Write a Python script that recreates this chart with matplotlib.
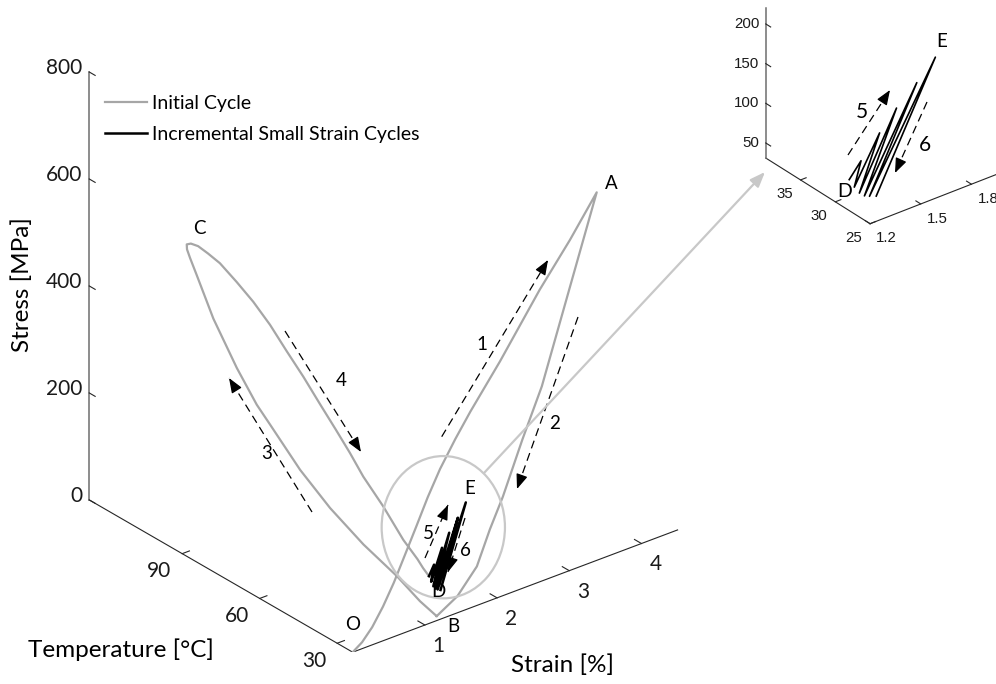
import numpy as np
import matplotlib.pyplot as plt
from matplotlib.patches import Ellipse
from mpl_toolkits.mplot3d import proj3d

plt.rcParams['font.family'] = ['Lato', 'DejaVu Sans']

# ---- initial cycle: strain [%], temperature [C], stress [MPa] ----
room_temp = 24.0
# O -> A : loading at room temperature
load_strain = [0.00, 0.13, 0.27, 0.42, 0.57, 0.72, 0.88, 1.04, 1.21, 1.42, 1.63, 2.04, 2.59, 3.01, 3.38]
load_stress = [0, 12, 33, 64, 101, 144, 190, 237, 281, 326, 367, 440, 546, 618, 688]
# A -> B : unloading
unload_strain = [3.38, 2.62, 2.35, 2.08, 1.90, 1.72, 1.45, 1.16]
unload_stress = [688, 364, 278, 185, 133, 73, 31, 8]
# B -> C : heating at fixed strain
heat_strain = 1.165
heat_temp = [24, 30.5, 39.5, 52.4, 65.3, 76.9, 88.5, 93.7, 101.4, 110.5, 116.9, 119.5, 120.7, 120.8]
heat_stress = [8, 18, 40, 63, 95, 134, 186, 209, 256, 323, 386, 411, 424, 433]
# C -> D : cooling
cool_strain = [1.165, 1.165, 1.165, 1.165, 1.17, 1.17, 1.17, 1.17, 1.17, 1.17, 1.17, 1.17, 1.17,
               1.17, 1.17, 1.17, 1.18, 1.19, 1.20]
cool_temp = [120.8, 119.2, 116.4, 112.6, 108.1, 101.6, 95.2, 88.7, 82.3, 75.8, 69.4, 63.2, 57.8,
             52.6, 44.9, 37.1, 31.9, 30.0, 28]
cool_stress = [433, 439, 442, 439, 433, 416, 397, 372, 341, 311, 278, 247, 219, 189, 155, 114, 92,
               80, 70]

# ---- incremental small strain cycles D -> E ----
cyc_temp = 28.0
cyc_strain = [1.20, 1.27, 1.23, 1.38, 1.26, 1.48, 1.29, 1.60, 1.32, 1.71, 1.36]
cyc_stress = [70, 88, 58, 114, 48, 137, 42, 159, 39, 182, 36]

# axis ticks
strain_ticks = [1, 2, 3, 4]
temp_ticks = [30, 60, 90]
stress_ticks = [0, 200, 400, 600, 800]
zoom_strain_ticks = [1.2, 1.5, 1.8]
zoom_temp_ticks = [25, 30, 35]
zoom_stress_ticks = [50, 100, 150, 200]

init_x = np.concatenate([load_strain, unload_strain, np.full(len(heat_temp), heat_strain), cool_strain])
init_y = np.concatenate([np.full(len(load_strain), room_temp), np.full(len(unload_strain), room_temp),
                         heat_temp, cool_temp])
init_z = np.concatenate([load_stress, unload_stress, heat_stress, cool_stress])
cyc_y = np.full(len(cyc_strain), cyc_temp)

GRAY = '#a6a6a6'
LIGHT = '#c8c8c8'
AXC = '#262626'


def put(ax, x, y, z, s, **kw):
    """flat text anchored at a projected 3D point"""
    px, py, _ = proj3d.proj_transform(x, y, z, ax.get_proj())
    return ax.text2D(px, py, s, transform=ax.transData, **kw)


def frame(ax, xl, yl, zl, xt, yt, zt, tlen, xlab_at, ylab_at, zlab_at, fs, fam):
    """MATLAB-like 3D axis lines with inward ticks and labels"""
    x0, x1 = xl
    y0, y1 = yl
    z0, z1 = zl
    kw = dict(fontsize=fs, family=fam, color='#1a1a1a', va='center')
    ax.plot([x0, x1], [y0, y0], [z0, z0], color=AXC, lw=0.8)
    ax.plot([x0, x0], [y0, y1], [z0, z0], color=AXC, lw=0.8)
    ax.plot([x0, x0], [y1, y1], [z0, z1], color='#6e6e6e', lw=1.1)
    for t in xt:
        ax.plot([t, t], [y0, y0 + tlen[0]], [z0, z0], color=AXC, lw=0.8)
        put(ax, t, y0 - xlab_at[0], z0 - xlab_at[1], f'{t:g}', ha='center', **kw)
    for t in yt:
        ax.plot([x0, x0 + tlen[1]], [t, t], [z0, z0], color=AXC, lw=0.8)
        put(ax, x0 - ylab_at[0], t, z0 - ylab_at[1], f'{t:g}', ha='center', **kw)
    for t in zt:
        ax.plot([x0, x0], [y1, y1 - tlen[2]], [t, t], color=AXC, lw=0.8)
        put(ax, x0, y1 + zlab_at[0], t - zlab_at[1], f'{t:g}', ha='right', **kw)


fig = plt.figure(figsize=(9.96, 6.84), dpi=100)

# main view
ax = fig.add_axes([0.0323, 0.0465, 0.6867, 1.0], projection='3d', proj_type='ortho')
ax.set_axis_off()
ax.set_xlim(0, 4.5)
ax.set_ylim(24, 126)
ax.set_zlim(0, 800)
ax.set_box_aspect((417.5, 419.6, 483.8), zoom=1.085)
ax.view_init(elev=27.8, azim=-128.9)
frame(ax, (0, 4.5), (24, 126), (0, 800), strain_ticks, temp_ticks, stress_ticks,
      (2.7, 0.1, 2.3), (5.4, 24), (0.32, 17), (2.7, 0), 15, 'Lato')
l_init, = ax.plot(init_x, init_y, init_z, color=GRAY, lw=1.6, label='Initial Cycle')
l_cyc, = ax.plot(cyc_strain, cyc_y, cyc_stress, color='black', lw=1.8,
                 label='Incremental Small Strain Cycles')
put(ax, 1.57, -13.3, 0, 'Strain [%]', ha='center', va='center', fontsize=17.5)
put(ax, -1.91, 60.4, 0, 'Temperature [°C]', ha='center', va='center', fontsize=17.5)

# zoomed view of the small cycles
axz = fig.add_axes([0.7407, 0.6531, 0.2889, 0.4206], projection='3d', proj_type='ortho')
axz.set_axis_off()
axz.set_xlim(1.2, 2.0)
axz.set_ylim(25, 40)
axz.set_zlim(31, 220)
axz.set_box_aspect((172.0, 168.7, 172.7), zoom=1.0)
axz.view_init(elev=29.7, azim=-128.2)
frame(axz, (1.2, 2.0), (25, 40), (31, 220), zoom_strain_ticks, zoom_temp_ticks, zoom_stress_ticks,
      (0.7, 0.033, 0.7), (2.4, 5.2), (0.095, 9.8), (0.9, 4.9), 10.8, 'Liberation Sans')
axz.plot(cyc_strain, cyc_y, cyc_stress, color='black', lw=1.2)

# annotation layer in pixel units
ov = fig.add_axes([0, 0, 1, 1])
ov.set_xlim(0, 996)
ov.set_ylim(684, 0)
ov.axis('off')
ov.patch.set_visible(False)

ov.text(22, 285, 'Stress [MPa]', rotation=90, ha='center', va='center', fontsize=17.5)

ov.add_patch(Ellipse((443.3, 527.2), 123.3, 142.3, fill=False, ec=LIGHT, lw=1.6))
ov.annotate('', xy=(765, 172), xytext=(484, 473),
            arrowprops=dict(arrowstyle='-|>,head_length=0.9,head_width=0.35', color=LIGHT,
                            lw=1.6, shrinkA=0, shrinkB=0))

dashed = [((441.7, 436.7), (548, 260)), ((578, 317), (517, 489)), ((312, 512), (229, 378)),
          ((285, 331), (361, 452)), ((425, 558), (448, 505)), ((465, 518), (448, 572)),
          ((848, 155), (890, 90)), ((927, 102), (895, 173))]
for (xa, ya), (xb, yb) in dashed:
    ov.plot([xa, xb], [ya, yb], color='black', lw=0.9, ls=(0, (6.5, 4)))
    d = np.hypot(xb - xa, yb - ya)
    ov.annotate('', xy=(xb, yb), xytext=(xb - (xb - xa) * 6 / d, yb - (yb - ya) * 6 / d),
                arrowprops=dict(arrowstyle='-|>,head_length=0.9,head_width=0.35', color='black',
                                lw=0.9, shrinkA=0, shrinkB=0))

for s, (x, y) in {'A': (611.7, 183.3), 'B': (453.3, 626.7), 'C': (199.3, 228.3),
                  'D': (438.3, 591.7), 'E': (470, 488.3), 'O': (353, 625),
                  '1': (481.7, 345), '2': (555, 423.3), '3': (266.7, 453.3), '4': (341.7, 380),
                  '5': (428.3, 533.3), '6': (465, 550)}.items():
    ov.text(x, y, s, ha='center', va='center', fontsize=13.5)
for s, (x, y), fs in [('5', (861.7, 111.7), 15), ('6', (925, 145), 15),
                      ('E', (941.7, 41.7), 13.5), ('D', (845, 191.7), 14)]:
    ov.text(x, y, s, ha='center', va='center', fontsize=fs)

fig.legend(handles=[l_init, l_cyc], loc='upper left', bbox_to_anchor=(105 / 996, 1 - 95 / 684),
           frameon=False, fontsize=14, borderpad=0, borderaxespad=0, handlelength=2.16,
           handletextpad=0.26, labelspacing=0.72)

fig.savefig('out.png', dpi=100)
